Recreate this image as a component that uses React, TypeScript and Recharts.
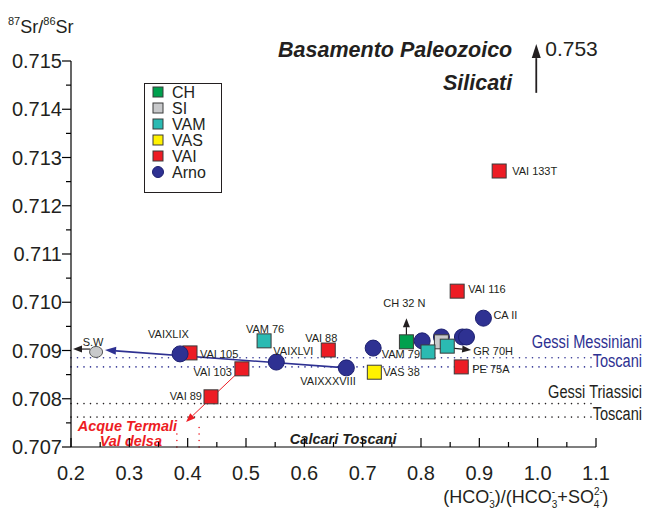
import {
  Legend,
  ReferenceDot,
  ReferenceLine,
  Scatter,
  ScatterChart,
  XAxis,
  YAxis,
} from "recharts";

const FONT = "Arial, 'Liberation Sans', Helvetica, sans-serif";

// x = HCO3 / (HCO3 + SO4), y = 87Sr/86Sr
const vaiPoints = [
  { x: 0.404, y: 0.70895, label: "VAI 105" },
  { x: 0.493, y: 0.70862, label: "VAI 103" },
  { x: 0.44, y: 0.70804, label: "VAI 89" },
  { x: 0.641, y: 0.70901, label: "VAI 88" },
  { x: 0.862, y: 0.71023, label: "VAI 116" },
  { x: 0.869, y: 0.70866, label: "PE 75A" },
  { x: 0.934, y: 0.71272, label: "VAI 133T" },
];
const chPoints = [{ x: 0.775, y: 0.70918, label: "CH 32 N" }];
const arnoPoints = [
  { x: 0.387, y: 0.70893, label: "VAIXLIX" },
  { x: 0.552, y: 0.70876, label: "VAIXLVI" },
  { x: 0.672, y: 0.70864, label: "VAIXXXVIII" },
  { x: 0.718, y: 0.70905 },
  { x: 0.802, y: 0.7092 },
  { x: 0.835, y: 0.70928 },
  { x: 0.871, y: 0.70928 },
  { x: 0.878, y: 0.70928 },
  { x: 0.907, y: 0.70967, label: "CA II" },
];
const siPoints = [{ x: 0.835, y: 0.70918 }];
const seawater = [{ x: 0.243, y: 0.70897, label: "S.W" }];
const vamPoints = [
  { x: 0.531, y: 0.7092, label: "VAM 76" },
  { x: 0.812, y: 0.70897, label: "VAM 79" },
  { x: 0.845, y: 0.70909, label: "GR 70H" },
];
const vasPoints = [{ x: 0.72, y: 0.70855, label: "VAS 38" }];

const xMajorTicks = [0.2, 0.3, 0.4, 0.5, 0.6, 0.7, 0.8, 0.9, 1.0, 1.1];
const xMinorTicks = [0.25, 0.35, 0.45, 0.55, 0.65, 0.75, 0.85, 0.95, 1.05];
const yMajorTicks = [0.707, 0.708, 0.709, 0.71, 0.711, 0.712, 0.713, 0.714, 0.715];
const yMinorTicks = [0.7075, 0.7085, 0.7095, 0.7105, 0.7115, 0.7125, 0.7135, 0.7145];

const COLORS = {
  CH: "#00a04e",
  SI: "#c8c9cb",
  VAM: "#2bbab2",
  VAS: "#fff200",
  VAI: "#ed1c24",
  Arno: "#2e3192",
};

const legendItems = [
  { name: "CH", color: COLORS.CH, shape: "square" },
  { name: "SI", color: COLORS.SI, shape: "square" },
  { name: "VAM", color: COLORS.VAM, shape: "square" },
  { name: "VAS", color: COLORS.VAS, shape: "square" },
  { name: "VAI", color: COLORS.VAI, shape: "square" },
  { name: "Arno", color: COLORS.Arno, shape: "circle" },
];

// where each sample name sits relative to its marker
const labelPlacement: Record<string, [number, number, "start" | "middle" | "end"]> = {
  "VAI 133T": [13, 4, "start"],
  "VAI 116": [11, 2, "start"],
  "CA II": [10, 1, "start"],
  "CH 32 N": [-2, -35, "middle"],
  "GR 70H": [26, 9, "start"],
  "PE 75A": [11, 6, "start"],
  "VAM 79": [-8, 6, "end"],
  "VAS 38": [9, 4, "start"],
  VAIXXXVIII: [-46, 17, "start"],
  "VAI 88": [-7, -8, "middle"],
  VAIXLVI: [-3, -7, "start"],
  "VAM 76": [1, -8, "middle"],
  "VAI 105": [10, 5, "start"],
  "VAI 103": [-10, 7, "end"],
  "VAI 89": [-9, 3, "end"],
  VAIXLIX: [-32, -16, "start"],
  "S.W": [-3, -6, "middle"],
};

const labelled = [
  ...vaiPoints,
  ...chPoints,
  ...arnoPoints,
  ...seawater,
  ...vamPoints,
  ...vasPoints,
].filter((p) => p.label);

const squareShape = (fill: string) => (p: any) => (
  <rect
    x={p.cx - 7}
    y={p.cy - 7}
    width={14}
    height={14}
    fill={fill}
    stroke="#3a3a3a"
    strokeWidth={1}
  />
);

const circleShape = (p: any) => (
  <circle cx={p.cx} cy={p.cy} r={8} fill={COLORS.Arno} stroke="#1d2070" strokeWidth={1} />
);

const ellipseShape = (p: any) => (
  <ellipse cx={p.cx} cy={p.cy} rx={6.5} ry={5.5} fill={COLORS.SI} stroke="#555" strokeWidth={1} />
);

const nameShape = (p: any) => {
  const [dx, dy, anchor] = labelPlacement[p.payload.label] ?? [10, 4, "start"];
  return (
    <text
      x={p.cx + dx}
      y={p.cy + dy}
      textAnchor={anchor}
      fontSize={11}
      fontFamily={FONT}
      fill="#231f20"
    >
      {p.payload.label}
    </text>
  );
};

const arrowShape = (color: string, width: number, len: number, half: number) => (p: any) => {
  const { x1, y1, x2, y2 } = p;
  const a = Math.atan2(y2 - y1, x2 - x1);
  const bx = x2 - len * Math.cos(a);
  const by = y2 - len * Math.sin(a);
  const nx = -Math.sin(a) * half;
  const ny = Math.cos(a) * half;
  return (
    <g>
      <line x1={x1} y1={y1} x2={bx} y2={by} stroke={color} strokeWidth={width} />
      <polygon
        points={`${x2},${y2} ${bx + nx},${by + ny} ${bx - nx},${by - ny}`}
        fill={color}
      />
    </g>
  );
};

function XTick({ x, y, payload }: any) {
  const major = xMajorTicks.includes(payload.value);
  return (
    <g>
      <line x1={x} x2={x} y1={y} y2={y - (major ? 9 : 5)} stroke="#000" strokeWidth={1.2} />
      {major && (
        <text x={x} y={y + 33} textAnchor="middle" fontSize={20} fontFamily={FONT} fill="#231f20">
          {payload.value.toFixed(1)}
        </text>
      )}
    </g>
  );
}

function YTick({ x, y, payload }: any) {
  const major = yMajorTicks.includes(payload.value);
  return (
    <g>
      <line x1={x} x2={x - (major ? 9 : 5)} y1={y} y2={y} stroke="#000" strokeWidth={1.2} />
      {major && (
        <text x={x - 9} y={y + 7} textAnchor="end" fontSize={20} fontFamily={FONT} fill="#231f20">
          {payload.value.toFixed(3)}
        </text>
      )}
    </g>
  );
}

function LegendBox() {
  return (
    <div style={{ width: 78, height: 110, border: "1px solid #231f20", boxSizing: "border-box", background: "#fff" }}>
      <svg width={76} height={108}>
        {legendItems.map((it, i) => {
          const cy = 8 + i * 16;
          return (
            <g key={it.name}>
              {it.shape === "circle" ? (
                <circle cx={13} cy={cy} r={5.5} fill={it.color} stroke="#1d2070" />
              ) : (
                <rect x={8} y={cy - 5} width={10} height={10} fill={it.color} stroke="#3a3a3a" />
              )}
              <text x={27} y={cy + 6} fontSize={16} fontFamily={FONT} fill="#231f20">
                {it.name}
              </text>
            </g>
          );
        })}
      </svg>
    </div>
  );
}

const note = (
  key: string,
  x: number,
  y: number,
  content: React.ReactNode,
) => (
  <ReferenceDot
    key={key}
    x={x}
    y={y}
    r={0}
    ifOverflow="visible"
    shape={(p: any) => <g transform={`translate(${p.cx},${p.cy})`}>{content}</g>}
  />
);

// narrow, tall lettering for the gypsum bands on the right edge
const bandText = (text: string, color: string, size: number) => (
  <g transform="scale(1,1.22)">
    <text textAnchor="end" fontFamily={FONT} fontSize={size} fill={color}>
      {text}
    </text>
  </g>
);

const dotted = { strokeWidth: 1.6, strokeDasharray: "0 6.5", strokeLinecap: "round" as const };

export default function App() {
  return (
    <div style={{ position: "absolute", left: 0, top: 0, background: "#fff" }}>
      <ScatterChart
        width={646}
        height={518}
        margin={{ top: 61, right: 50, bottom: 31, left: 10 }}
      >
        <XAxis
          type="number"
          dataKey="x"
          domain={[0.2, 1.1]}
          ticks={[...xMajorTicks, ...xMinorTicks].sort((a, b) => a - b)}
          interval={0}
          allowDataOverflow
          height={40}
          tickSize={0}
          tickMargin={0}
          tickLine={false}
          tick={<XTick />}
          axisLine={{ stroke: "#000", strokeWidth: 1.2 }}
        />
        <YAxis
          type="number"
          dataKey="y"
          domain={[0.707, 0.715]}
          ticks={[...yMajorTicks, ...yMinorTicks].sort((a, b) => a - b)}
          interval={0}
          allowDataOverflow
          width={61}
          tickSize={0}
          tickMargin={0}
          tickLine={false}
          tick={<YTick />}
          axisLine={{ stroke: "#000", strokeWidth: 1.2 }}
        />

        <ReferenceLine y={0.70885} stroke={COLORS.Arno} {...dotted} />
        <ReferenceLine y={0.70866} stroke={COLORS.Arno} {...dotted} />
        <ReferenceLine y={0.7079} stroke="#231f20" {...dotted} />
        <ReferenceLine y={0.70762} stroke="#231f20" {...dotted} />
        <ReferenceLine
          segment={[{ x: 0.3815, y: 0.707 }, { x: 0.3815, y: 0.70729 }]}
          stroke={COLORS.VAI}
          {...dotted}
        />
        <ReferenceLine
          segment={[{ x: 0.4196, y: 0.707 }, { x: 0.4196, y: 0.70741 }]}
          stroke={COLORS.VAI}
          {...dotted}
        />

        <ReferenceLine
          segment={[{ x: 0.493, y: 0.70862 }, { x: 0.3973, y: 0.70752 }]}
          ifOverflow="visible"
          shape={arrowShape(COLORS.VAI, 1, 9, 3.5)}
        />
        <ReferenceLine
          segment={[{ x: 0.672, y: 0.70864 }, { x: 0.2583, y: 0.70901 }]}
          ifOverflow="visible"
          shape={arrowShape(COLORS.Arno, 1.6, 11, 4)}
        />
        <ReferenceLine
          segment={[{ x: 0.2326, y: 0.70903 }, { x: 0.2034, y: 0.70903 }]}
          ifOverflow="visible"
          shape={arrowShape("#231f20", 1.2, 9, 3.5)}
        />
        <ReferenceLine
          segment={[{ x: 0.775, y: 0.70932 }, { x: 0.775, y: 0.70967 }]}
          ifOverflow="visible"
          shape={arrowShape("#231f20", 1.2, 9, 3.5)}
        />
        <ReferenceLine
          segment={[{ x: 0.8535, y: 0.70905 }, { x: 0.886, y: 0.70901 }]}
          ifOverflow="visible"
          shape={arrowShape("#231f20", 1.2, 9, 3.5)}
        />
        <ReferenceLine
          segment={[{ x: 0.9976, y: 0.71434 }, { x: 0.9976, y: 0.71535 }]}
          ifOverflow="visible"
          shape={arrowShape("#231f20", 1.8, 14, 4.5)}
        />

        <Scatter name="VAI" data={vaiPoints} shape={squareShape(COLORS.VAI)} isAnimationActive={false} />
        <Scatter name="CH" data={chPoints} shape={squareShape(COLORS.CH)} isAnimationActive={false} />
        <Scatter name="Arno" data={arnoPoints} shape={circleShape} isAnimationActive={false} />
        <Scatter name="SI" data={siPoints} shape={squareShape(COLORS.SI)} isAnimationActive={false} />
        <Scatter name="SW" data={seawater} shape={ellipseShape} isAnimationActive={false} />
        <Scatter name="VAM" data={vamPoints} shape={squareShape(COLORS.VAM)} isAnimationActive={false} />
        <Scatter name="VAS" data={vasPoints} shape={squareShape(COLORS.VAS)} isAnimationActive={false} />
        <Scatter name="labels" data={labelled} shape={nameShape} legendType="none" isAnimationActive={false} />

        {note(
          "sr",
          0.092,
          0.71558,
          <text fontFamily={FONT} fill="#231f20" fontSize={18}>
            <tspan fontSize={11} dy={-8}>87</tspan>
            <tspan dy={8}>Sr/</tspan>
            <tspan fontSize={11} dy={-8}>86</tspan>
            <tspan dy={8}>Sr</tspan>
          </text>,
        )}
        {note(
          "bas",
          0.9564,
          0.71508,
          <text textAnchor="end" fontFamily={FONT} fontWeight="bold" fontStyle="italic" fontSize={21.5} fill="#231f20">
            Basamento Paleozoico
          </text>,
        )}
        {note(
          "sil",
          0.9564,
          0.7144,
          <text textAnchor="end" fontFamily={FONT} fontWeight="bold" fontStyle="italic" fontSize={21.5} fill="#231f20">
            Silicati
          </text>,
        )}
        {note(
          "753",
          1.013,
          0.7151,
          <text fontFamily={FONT} fontSize={21} fill="#231f20">
            0.753
          </text>,
        )}
        {note("gm", 1.179, 0.70905, bandText("Gessi Messiniani", COLORS.Arno, 14.6))}
        {note("gmt", 1.179, 0.70866, bandText("Toscani", COLORS.Arno, 14.6))}
        {note("gt", 1.179, 0.70802, bandText("Gessi Triassici", "#231f20", 14.6))}
        {note("gtt", 1.179, 0.70756, bandText("Toscani", "#231f20", 14.6))}
        {note(
          "cal",
          0.6666,
          0.70706,
          <text textAnchor="middle" fontFamily={FONT} fontWeight="bold" fontStyle="italic" fontSize={14.5} fill="#231f20">
            Calcari Toscani
          </text>,
        )}
        {note(
          "acq",
          0.3818,
          0.70733,
          <text textAnchor="end" fontFamily={FONT} fontWeight="bold" fontStyle="italic" fontSize={14.5} fill={COLORS.VAI}>
            Acque Termali
          </text>,
        )}
        {note(
          "val",
          0.356,
          0.70702,
          <text textAnchor="end" fontFamily={FONT} fontWeight="bold" fontStyle="italic" fontSize={14.5} fill={COLORS.VAI}>
            Val delsa
          </text>,
        )}
        {note(
          "xlab",
          0.838,
          0.70584,
          <text fontFamily={FONT} fontSize={18} fill="#231f20">
            (HCO
            <tspan fontSize={10} dy={-8}>-</tspan>
            <tspan fontSize={10} dx={-3.3} dy={13}>3</tspan>
            <tspan dy={-5}>)/(HCO</tspan>
            <tspan fontSize={10} dy={-8}>-</tspan>
            <tspan fontSize={10} dx={-3.3} dy={13}>3</tspan>
            <tspan dy={-5}>+SO</tspan>
            <tspan fontSize={10} dy={-8}>2-</tspan>
            <tspan fontSize={10} dx={-9} dy={13}>4</tspan>
            <tspan dx={3} dy={-5}>)</tspan>
          </text>,
        )}

        <Legend
          layout="horizontal"
          verticalAlign="middle"
          align="center"
          wrapperStyle={{ left: 144, top: 83, width: 78, height: 110 }}
          content={() => <LegendBox />}
        />
      </ScatterChart>
    </div>
  );
}
